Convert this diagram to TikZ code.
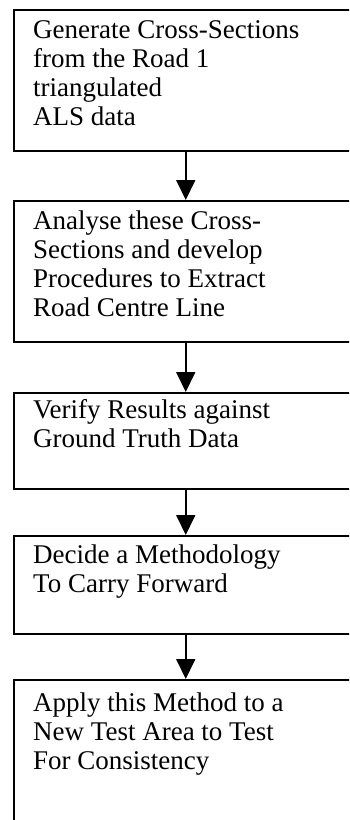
\documentclass[tikz,border=0pt]{standalone}
\usepackage{fontspec}
\setmainfont{Liberation Serif}
\usetikzlibrary{arrows.meta}
\begin{document}
\begin{tikzpicture}[x=1pt,y=1pt,
  stepbox/.style={draw, line width=1.5pt, rectangle, minimum width=344pt,
    anchor=north west, inner sep=0pt},
  steptext/.style={anchor=north west, inner sep=0pt, align=left,
    font=\fontsize{27}{29}\selectfont},
  flow/.style={line width=1.8pt, -{Triangle[width=19pt,length=20pt]}}]
\useasboundingbox (0,0) rectangle (349,-820);
\clip (0,0) rectangle (349,-820);
% the five process boxes (their right parts run off the page)
\node[stepbox, minimum height=141pt] (b1) at (13,-9) {};
\node[stepbox, minimum height=141pt] (b2) at (13,-200) {};
\node[stepbox, minimum height=96pt]  (b3) at (13,-392) {};
\node[stepbox, minimum height=98pt]  (b4) at (13,-535) {};
\node[stepbox, minimum height=200pt] (b5) at (13,-679) {};
% box texts
\node[steptext] (t1) at ([xshift=20pt,yshift=-9pt]b1.north west)
  {\strut Generate Cross-Sections\\from the Road 1\\triangulated\\ALS data};
\node[steptext] (t2) at ([xshift=20pt,yshift=-9pt]b2.north west)
  {\strut Analyse these Cross-\\Sections and develop\\Procedures to Extract\\Road Centre Line};
\node[steptext] (t3) at ([xshift=20pt,yshift=-6pt]b3.north west)
  {\strut Verify Results against\\Ground Truth Data};
\node[steptext] (t4) at ([xshift=20pt,yshift=-8pt]b4.north west)
  {\strut Decide a Methodology\\To Carry Forward};
\node[steptext] (t5) at ([xshift=20pt,yshift=-12pt]b5.north west)
  {\strut Apply this Method to a\\New Test Area to Test\\For Consistency};
% flow arrows
\draw[flow] (b1.south) -- (b2.north);
\draw[flow] (b2.south) -- (b3.north);
\draw[flow] (b3.south) -- (b4.north);
\draw[flow] (b4.south) -- (b5.north);
\end{tikzpicture}
\end{document}
